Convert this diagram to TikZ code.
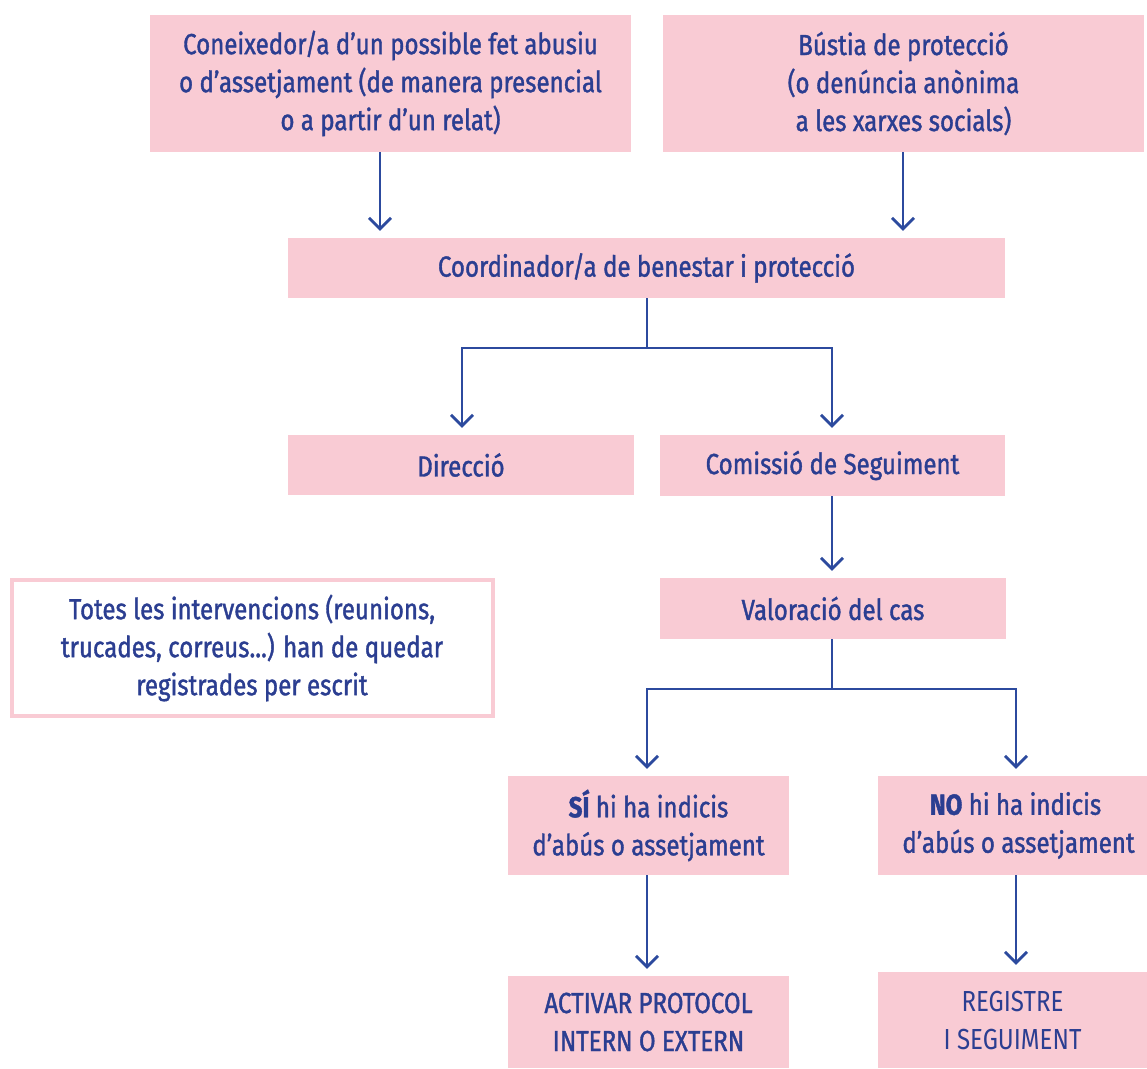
\documentclass[tikz,border=0pt]{standalone}
\usepackage{fontspec}
\setmainfont{Fira Sans}[FakeStretch=0.83, FakeBold=1.3]
\newfontfamily\lightfont{Fira Sans}[FakeStretch=0.83]
\usetikzlibrary{arrows.meta}
\definecolor{pinkbox}{HTML}{F9CBD4}
\definecolor{txtblue}{HTML}{2B3E91}
\definecolor{lineblue}{HTML}{2C4A9E}
\tikzset{
  box/.style={fill=pinkbox, inner sep=0pt, align=center, text=txtblue,
    font=\fontsize{29}{38}\selectfont},
  notebox/.style={draw=pinkbox, line width=4pt, fill=white, inner sep=0pt, align=center, text=txtblue,
    font=\fontsize{29}{38}\selectfont},
  arr/.style={draw=lineblue, line width=2.8pt, -{Straight Barb[length=11pt,width=22pt,line width=2.8pt]}, shorten >=7pt},
  ln/.style={draw=lineblue, line width=2.8pt},
}
\begin{document}
\begin{tikzpicture}[x=1pt,y=-1pt]
\useasboundingbox[fill=white] (0,0) rectangle (1147,1068);
\node[box, minimum width=481pt, minimum height=137pt] (b1) at (390.5,83.5)
  {Coneixedor/a d’un possible fet abusiu\\o d’assetjament (de manera presencial\\o a partir d’un relat)};
\node[box, minimum width=481pt, minimum height=137pt] (b2) at (903.5,83.5)
  {Bústia de protecció\\(o denúncia anònima\\a les xarxes socials)};
\node[box, minimum width=717pt, minimum height=60pt] (coord) at (646.5,268)
  {Coordinador/a de benestar i protecció};
\node[box, minimum width=346pt, minimum height=60pt] (dir) at (461,465) {Direcció};
\node[box, minimum width=345pt, minimum height=61pt] (com) at (832.5,465.5) {Comissió de Seguiment};
\node[box, minimum width=346pt, minimum height=61pt] (val) at (833,608.5) {Valoració del cas};
\node[notebox, minimum width=481pt, minimum height=136pt] (note) at (252,648)
  {Totes les intervencions (reunions,\\trucades, correus...) han de quedar\\registrades per escrit};
\node[box, minimum width=281pt, minimum height=99pt] (si) at (648.5,825.5)
  {\textbf{SÍ} hi ha indicis\\d’abús o assetjament};
\node[box, minimum width=269pt, minimum height=99pt] (no) at (1012.5,825.5)
  {\hspace*{6pt}\textbf{NO} hi ha indicis\\\hspace*{12pt}d’abús o assetjament};
\node[box, minimum width=281pt, minimum height=92pt] (act) at (648.5,1022)
  {ACTIVAR PROTOCOL\\INTERN O EXTERN};
\node[box, minimum width=269pt, minimum height=96pt, font=\lightfont\fontsize{29}{38}\selectfont] (reg) at (1012.5,1020)
  {REGISTRE\\I SEGUIMENT};
% x positions of connectors
\coordinate (xa) at (380,0);
\coordinate (xb) at (903,0);
\coordinate (xc) at (647,0);
\coordinate (xd) at (462,0);
\coordinate (xe) at (832,0);
\coordinate (xf) at (1016,0);
\coordinate (y1) at (0,348);
\coordinate (y2) at (0,689);
\draw[arr] (b1.south -| xa) -- (coord.north -| xa);
\draw[arr] (b2.south -| xb) -- (coord.north -| xb);
\draw[ln] (coord.south -| xc) -- (y1 -| xc);
\draw[arr] (y1 -| xc) -- (y1 -| xd) -- (dir.north -| xd);
\draw[arr] (y1 -| xc) -- (y1 -| xe) -- (com.north -| xe);
\draw[arr] (com.south -| xe) -- (val.north -| xe);
\draw[ln] (val.south -| xe) -- (y2 -| xe);
\draw[arr] (y2 -| xe) -- (y2 -| xc) -- (si.north -| xc);
\draw[arr] (y2 -| xe) -- (y2 -| xf) -- (no.north -| xf);
\draw[arr] (si.south -| xc) -- (act.north -| xc);
\draw[arr] (no.south -| xf) -- (reg.north -| xf);
\end{tikzpicture}
\end{document}
